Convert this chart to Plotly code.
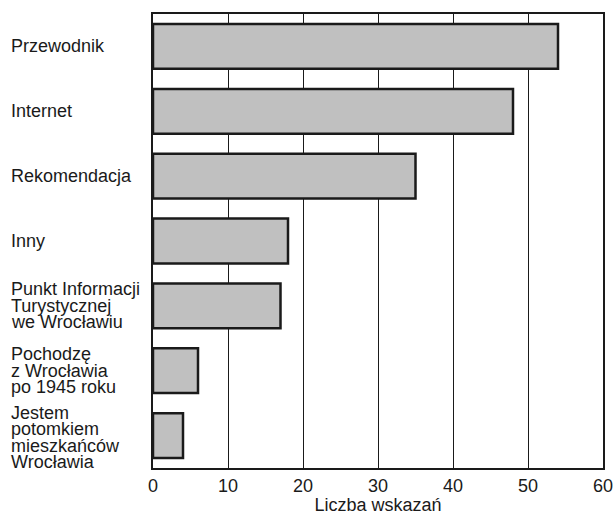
import plotly.graph_objects as go

categories = [
    "Przewodnik",
    "Internet",
    "Rekomendacja",
    "Inny",
    "Punkt Informacji\nTurystycznej\nwe Wrocławiu",
    "Pochodzę\nz Wrocławia\npo 1945 roku",
    "Jestem\npotomkiem\nmieszkańców\nWrocławia",
]
values = [54, 48, 35, 18, 17, 6, 4]
x_ticks = [0, 10, 20, 30, 40, 50, 60]
x_title = "Liczba wskazań"

FONT = "Liberation Sans, Arial, sans-serif"
W, H = 614, 515
ML, MR, MT, MB = 153, 11, 14, 47
plot_w = W - ML - MR

fig = go.Figure()
fig.add_trace(go.Bar(
    x=values, y=list(range(len(categories))), orientation="h",
    marker=dict(color="#c0c0c0", line=dict(color="#1a1a1a", width=2.5)),
    width=0.69, hoverinfo="skip",
))

annotations = []
line_h = 16.5
for i, lab in enumerate(categories):
    lines = lab.split("\n")
    n = len(lines)
    for j, ln in enumerate(lines):
        annotations.append(dict(
            x=-(ML - 9) / plot_w, xref="paper", y=i, yref="y",
            text=ln, showarrow=False, xanchor="left", yanchor="middle",
            align="left", yshift=((n - 1) / 2 - j) * line_h + (-2 if n == 4 else 0),
            font=dict(family=FONT, size=18, color="#1a1a1a"),
        ))

fig.update_layout(
    width=W, height=H,
    margin=dict(l=ML, r=MR, t=MT, b=MB, autoexpand=False),
    paper_bgcolor="white", plot_bgcolor="white",
    showlegend=False,
    bargap=0.3,
    annotations=annotations,
    xaxis=dict(
        range=[0, 60], tickvals=x_ticks, ticktext=[str(t) for t in x_ticks],
        showgrid=True, gridcolor="#1a1a1a", gridwidth=1,
        showline=True, linecolor="#1a1a1a", linewidth=2, mirror=True,
        ticks="", zeroline=False, automargin=False,
        tickfont=dict(family=FONT, size=18, color="#1a1a1a"),
        title=dict(text=x_title, font=dict(family=FONT, size=18, color="#1a1a1a"), standoff=2),
    ),
    yaxis=dict(
        range=[len(categories) - 0.5, -0.5], automargin=False,
        showticklabels=False, showgrid=False, zeroline=False,
        showline=True, linecolor="#1a1a1a", linewidth=2, mirror=True,
        ticks="",
    ),
)

fig.write_html(
    "out.html",
    config={"displayModeBar": False, "staticPlot": True},
    post_script="document.body.style.margin='0';document.body.style.overflow='hidden';",
)
